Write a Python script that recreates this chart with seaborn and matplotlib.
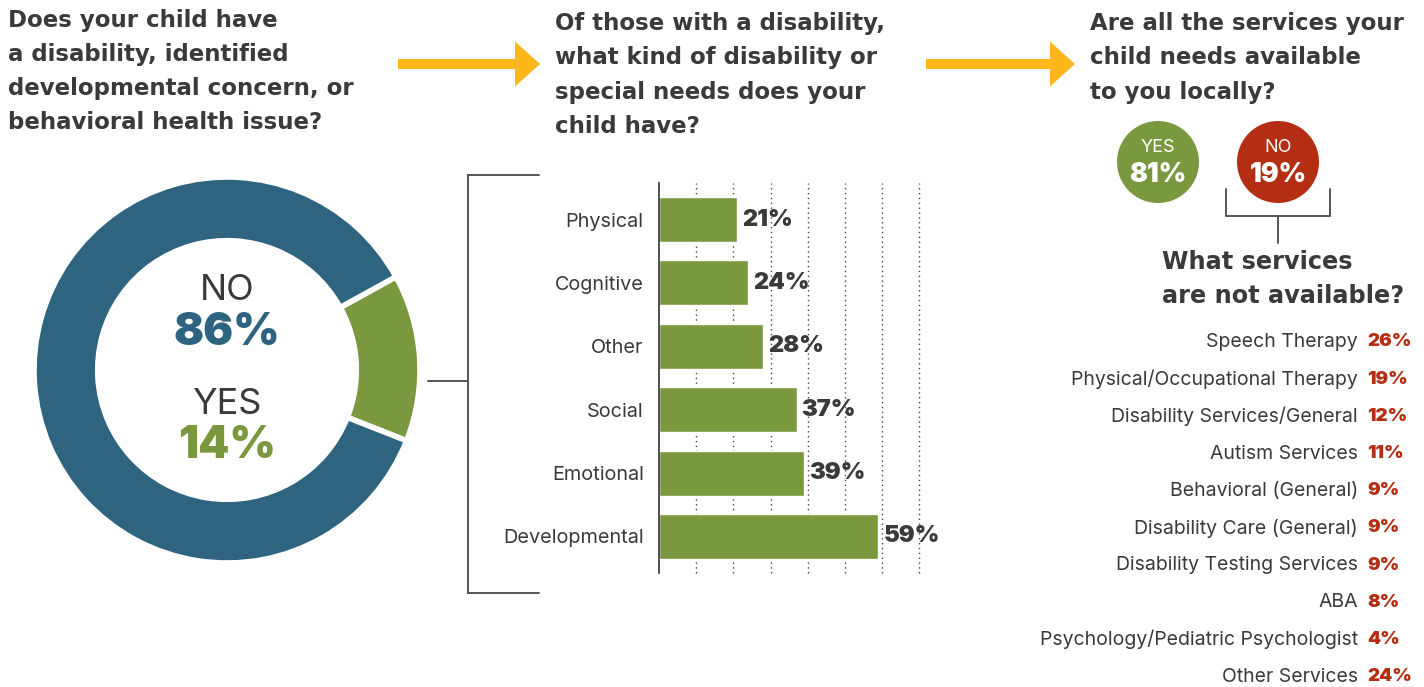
import matplotlib
matplotlib.use("Agg")
import matplotlib.pyplot as plt
import seaborn as sns
import pandas as pd
from matplotlib.patches import Circle, Polygon

# ---- data -------------------------------------------------------------
has_labels = ["YES", "NO"]
has_values = [14, 86]

kind_labels = ["Physical", "Cognitive", "Other", "Social", "Emotional", "Developmental"]
kind_values = [21, 24, 28, 37, 39, 59]

local_labels = ["YES", "NO"]
local_values = [81, 19]

missing_labels = [
    "Speech Therapy", "Physical/Occupational Therapy", "Disability Services/General",
    "Autism Services", "Behavioral (General)", "Disability Care (General)",
    "Disability Testing Services", "ABA", "Psychology/Pediatric Psychologist",
    "Other Services",
]
missing_values = [26, 19, 12, 11, 9, 9, 9, 8, 4, 24]

# ---- style ------------------------------------------------------------
BLUE = "#2E6480"
GREEN = "#7A983E"
RED = "#B32E12"
TEXT = "#3A3A3A"
LINE = "#555555"
ARROW = "#FDB71A"
HEAD_FONT = ["DejaVu Sans"]

sns.set_theme(style="white")
plt.rcParams["font.family"] = ["Inter", "DejaVu Sans"]

W, H = 1424, 687
fig = plt.figure(figsize=(W / 100, H / 100), dpi=100)
fig.patch.set_facecolor("white")


def box(left, top, width, height):
    """Axes rectangle from pixel box (origin top-left)."""
    return [left / W, 1 - (top + height) / H, width / W, height / H]


# ---- donut ------------------------------------------------------------
ax_pie = fig.add_axes(box(34, 177, 386, 386))
ax_pie.pie(
    has_values, colors=[GREEN, BLUE], startangle=-21.5, counterclock=True,
    radius=1, wedgeprops=dict(width=0.33, edgecolor="white", linewidth=4),
)
ax_pie.set_xlim(-1, 1)
ax_pie.set_ylim(-1, 1)
ax_pie.set_aspect("equal")
ax_pie.axis("off")

# ---- bar chart --------------------------------------------------------
kinds = pd.DataFrame({"kind": kind_labels, "pct": kind_values})
ax_bar = fig.add_axes(box(659, 183, 260.4, 390))
sns.barplot(data=kinds, y="kind", x="pct", orient="h", color=GREEN,
            width=0.71, saturation=1, ax=ax_bar)
ax_bar.set_xlim(0, 70)
ax_bar.set_ylim(5.576, -0.576)
for gx in range(10, 71, 10):
    ax_bar.axvline(gx, color="#444444", linestyle=(0, (1, 2.5)), linewidth=1,
                   zorder=0, clip_on=False)
ax_bar.set_xlabel("")
ax_bar.set_ylabel("")
ax_bar.set_xticks([])
ax_bar.tick_params(axis="y", length=0, pad=11, labelsize=14.3, labelcolor=TEXT)
for s in ["top", "right", "bottom"]:
    ax_bar.spines[s].set_visible(False)
ax_bar.spines["left"].set_color("#333333")
ax_bar.spines["left"].set_linewidth(1.2)
ax_bar.patch.set_alpha(0)
for patch, v in zip(ax_bar.patches, kind_values):
    ax_bar.text(v + 1.3, patch.get_y() + patch.get_height() / 2, f"{v}%",
                va="center", ha="left", fontsize=17, fontweight="black",
                color=TEXT)

# ---- overlay for headings, arrows, brackets ---------------------------
ov = fig.add_axes([0, 0, 1, 1])
ov.set_xlim(0, W)
ov.set_ylim(H, 0)
ov.axis("off")
ov.patch.set_alpha(0)

title_kw = dict(fontsize=16.5, fontweight="bold", family=HEAD_FONT,
                color=TEXT, ha="left", va="baseline")
titles = [
    (8, [27, 61, 95, 129], ["Does your child have", "a disability, identified",
                            "developmental concern, or",
                            "behavioral health issue?"]),
    (555, [30, 64, 99, 133], ["Of those with a disability,",
                              "what kind of disability or",
                              "special needs does your", "child have?"]),
    (1090, [30, 64, 99], ["Are all the services your",
                          "child needs available", "to you locally?"]),
]
for x, ys, lines in titles:
    for y, line in zip(ys, lines):
        ov.text(x, y, line, **title_kw)


def arrow(x0, x1, y):
    head_len, head_half, shaft_half = 25, 22.5, 5
    pts = [(x0, y - shaft_half), (x1 - head_len, y - shaft_half),
           (x1 - head_len, y - head_half), (x1, y),
           (x1 - head_len, y + head_half), (x1 - head_len, y + shaft_half),
           (x0, y + shaft_half)]
    ov.add_patch(Polygon(pts, closed=True, facecolor=ARROW, edgecolor="none"))


arrow(398, 540, 64)
arrow(926, 1075, 64)

# donut centre labels
ov.text(227, 291, has_labels[1], ha="center", va="center", fontsize=26,
        color=TEXT)
ov.text(227, 333, f"{has_values[1]}%", ha="center", va="center", fontsize=32,
        fontweight="black", color=BLUE)
ov.text(227, 404, has_labels[0], ha="center", va="center", fontsize=26,
        color=TEXT)
ov.text(227, 446, f"{has_values[0]}%", ha="center", va="center", fontsize=32,
        fontweight="black", color=GREEN)

# bracket linking donut slice to bar chart
ov.plot([539, 468, 468, 539], [175, 175, 593, 593], color=LINE, lw=1.4,
        solid_joinstyle="miter")
ov.plot([428, 468], [381, 381], color=LINE, lw=1.4)

# local-availability circles
for cx, lab, val, col in [(1158, local_labels[0], local_values[0], GREEN),
                          (1278, local_labels[1], local_values[1], RED)]:
    ov.add_patch(Circle((cx, 162), 41, facecolor=col, edgecolor="none"))
    ov.text(cx, 148, lab, ha="center", va="center", fontsize=13,
            color="white")
    ov.text(cx, 175, f"{val}%", ha="center", va="center", fontsize=19,
            fontweight="black", color="white")

ov.plot([1226, 1226, 1330, 1330], [189, 216, 216, 189], color=LINE, lw=1.4)
ov.plot([1278, 1278], [216, 243], color=LINE, lw=1.4)

ov.text(1162, 269, "What services", ha="left", va="baseline", fontsize=17.3,
        fontweight="bold", family=HEAD_FONT, color=TEXT)
ov.text(1162, 303, "are not available?", ha="left", va="baseline",
        fontsize=17.3, fontweight="bold", family=HEAD_FONT, color=TEXT)

# list of unavailable services
for i, (lab, val) in enumerate(zip(missing_labels, missing_values)):
    y = 342 + i * 37.2
    ov.text(1358, y, lab, ha="right", va="center", fontsize=14, color=TEXT)
    ov.text(1367, y, f"{val}%", ha="left", va="center", fontsize=13.5,
            fontweight="black", color=RED)

fig.savefig("out.png", dpi=100, facecolor="white")
